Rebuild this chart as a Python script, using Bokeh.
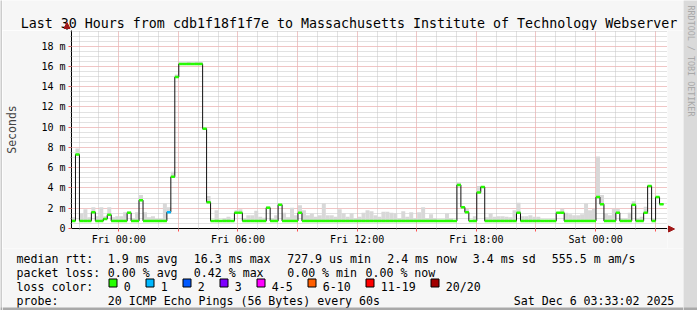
import math
from bokeh.plotting import figure
from bokeh.layouts import row, column
from bokeh.models import FixedTicker, Range1d
from bokeh.core.properties import value
from bokeh.embed import file_html
from bokeh.resources import INLINE

# ---------------- data ----------------
TITLE = "Last 30 Hours from cdb1f18f1f7e to Massachusetts Institute of Technology Webserver"
start_hour = -2.38          # graph start, hours relative to Fri 00:00
step_hours = 0.2            # one consolidated step = 12 min

median_ms = (
    [0.75, 7.3, 0.75, 0.75, 0.75, 1.6, 0.75, 0.75, 0.95, 1.35,
     0.75, 0.75, 0.75, 0.75, 1.55, 0.75, 0.75, 2.8, 0.75, 0.75,
     0.75, 0.75, 0.75, 0.75, 1.6, 5.1, 14.95, 16.25, 16.25, 16.25,
     16.25, 16.25, 16.25, 9.85, 2.6, 0.75, 0.75, 0.75, 0.75, 0.75,
     0.75, 1.55, 1.55, 0.75, 0.75, 0.75, 0.75, 0.75, 0.75, 2.05,
     0.75, 0.75, 2.35, 0.75, 0.75, 0.75, 0.75, 1.55]
    + [0.75] * 39
    + [4.3, 2.1, 1.6, 0.75, 0.75, 3.55, 4.1, 0.75, 0.75, 0.75,
       0.75, 0.75, 0.75, 0.75, 0.75, 1.55, 0.75, 0.75, 0.75, 0.75,
       0.75, 0.75, 0.75, 0.75, 0.75, 1.55, 1.55, 0.75, 0.75, 0.75,
       0.75, 0.75, 0.75, 0.75, 0.75, 3.1, 2.4, 0.75, 0.75, 0.75,
       1.55, 0.75, 0.75, 0.75, 2.35, 0.75, 0.75, 1.55, 4.2, 0.75,
       3.1, 2.4]
)

smoke_max_ms = [
    1.1, 7.9, 1.5, 1.9, 1.1, 2.1, 1.2, 2.1, 1.2, 2.1,
    1.1, 1.2, 1.2, 1.6, 1.7, 1.0, 1.6, 3.3, 1.6, 1.1,
    1.2, 0.95, 0.95, 2.5, 2.1, 5.6, 15.2, 16.4, 16.4, 16.45,
    16.4, 16.45, 16.45, 10.0, 3.2, 0.8, 1.8, 0.8, 1.0, 1.15,
    0.8, 1.8, 1.9, 1.0, 1.3, 1.3, 1.75, 1.15, 1.05, 2.2,
    1.0, 1.3, 2.5, 1.55, 1.1, 2.05, 1.3, 2.3, 1.8, 1.3,
    1.45, 1.15, 1.3, 2.5, 1.3, 1.3, 1.15, 1.9, 1.5, 1.15,
    1.5, 1.0, 1.15, 1.55, 1.8, 1.7, 1.3, 1.15, 1.65, 1.65,
    1.55, 1.5, 1.0, 1.7, 1.15, 1.6, 1.0, 1.6, 2.1, 1.0,
    1.4, 1.0, 0.9, 0.9, 1.5, 1.0, 0.85, 4.6, 2.0, 1.95,
    0.85, 1.2, 4.2, 4.2, 1.1, 1.5, 1.15, 1.2, 1.2, 1.15,
    1.1, 1.8, 2.55, 1.2, 1.2, 1.3, 1.15, 1.15, 0.9, 0.9,
    0.9, 0.9, 1.55, 1.95, 1.55, 1.4, 1.3, 1.3, 1.4, 2.5,
    1.8, 1.95, 7.1, 3.3, 1.5, 1.3, 1.95, 1.95, 1.0, 1.0,
    1.55, 2.7, 1.0, 1.15, 2.15, 4.3, 1.0, 3.2, 2.3,
]

smoke_min_ms = (
    [0.65, 7.2, 0.65, 0.65, 0.65, 1.5, 0.65, 0.65, 0.85, 1.25,
     0.65, 0.65, 0.65, 0.65, 1.45, 0.65, 0.65, 2.7, 0.65, 0.65,
     0.65, 0.65, 0.65, 0.65, 1.5, 5.0, 14.85, 16.15, 16.15, 16.15,
     16.15, 16.15, 16.15, 9.75, 2.5, 0.65, 0.65, 0.65, 0.65, 0.65,
     0.65, 1.45, 1.45, 0.65, 0.65, 0.65, 0.65, 0.65, 0.65, 1.95,
     0.65, 0.65, 2.25, 0.65, 0.65, 0.65, 0.65, 1.45]
    + [0.65] * 39
    + [4.2, 2.0, 1.5, 0.65, 0.65, 3.45, 4.0, 0.65, 0.65, 0.65,
       0.65, 0.65, 0.65, 0.65, 0.65, 1.45, 0.65, 0.65, 0.65, 0.65,
       0.65, 0.65, 0.65, 0.65, 0.65, 1.45, 1.45, 0.65, 0.65, 0.65,
       0.65, 0.65, 0.65, 0.65, 0.65, 3.0, 2.3, 0.65, 0.65, 0.65,
       1.45, 0.65, 0.65, 0.65, 2.25, 0.65, 0.65, 1.45, 4.1, 0.65,
       3.0, 2.3]
)

loss_count = [0] * len(median_ms)
loss_count[24] = 1

loss_labels = ["0", "1", "2", "3", "4-5", "6-10", "11-19", "20/20"]
loss_colors = ["#26ff00", "#00b8ff", "#0059ff", "#7e00ff", "#ff00ff",
               "#ff5e00", "#ff0000", "#a10000"]

y_ticks = [0, 2, 4, 6, 8, 10, 12, 14, 16, 18]
y_labels = ["0", "2 m", "4 m", "6 m", "8 m", "10 m", "12 m", "14 m", "16 m", "18 m"]
x_major = [0, 3, 6, 9, 12, 15, 18, 21, 24, 27]
x_labels = {0: "Fri 00:00", 6: "Fri 06:00", 12: "Fri 12:00", 18: "Fri 18:00", 24: "Sat 00:00"}

legend_rows = [
    [("median rtt:", 16), ("1.9 ms avg", 107.3), ("16.3 ms max", 193.3),
     ("727.9 us min", 286.7), ("2.4 ms now", 386.7), ("3.4 ms sd", 472.3),
     ("555.5 m am/s", 551.3)],
    [("packet loss:", 16), ("0.00 % avg", 107.3), ("0.42 % max", 193.3),
     ("0.00 % min", 286.7), ("0.00 % now", 365)],
    [("loss color:", 16)],
    [("probe:", 16), ("20 ICMP Echo Pings (56 Bytes) every 60s", 107.3),
     ("Sat Dec  6 03:33:02 2025", 513.3)],
]
swatch_x = [108.5, 145.5, 182.5, 219.5, 256.5, 307.5, 365.5, 430.5]

# ---------------- layout geometry (image pixels) ----------------
W, H = 697, 310
BG = "#f6f6f6"
STRIP = "#dadada"
EDGE_L = "#cccccc"
EDGE_B = "#a9a9a9"
MONO = "DejaVu Sans Mono"
LEFT_W, RIGHT_W = 2, 14
MID_W = W - LEFT_W - RIGHT_W          # 681
TITLE_H, MAIN_H = 30, 218
LEG_H = H - TITLE_H - MAIN_H          # 62
FRAME_L, FRAME_R = 67, 667
FRAME_T, FRAME_B = 30, 228
ARROW_W = MID_W - (FRAME_R - LEFT_W)  # 16


def pix_fig(w, h, bg=BG):
    f = figure(width=w, height=h, output_backend="svg", toolbar_location=None,
               x_range=Range1d(0, w), y_range=Range1d(h, 0),
               x_axis_type=None, y_axis_type=None,
               min_border=0, min_border_left=0, min_border_right=0,
               min_border_top=0, min_border_bottom=0)
    f.outline_line_color = None
    f.background_fill_color = bg
    f.border_fill_color = bg
    f.frame_align = False
    return f


def put_text(f, x, y, s, size="11.6px", align="left", baseline="alphabetic",
             color="#000000", angle=0.0):
    f.text(x=[x], y=[y], text=[s], text_font=value(MONO), text_font_size=size,
           text_align=align, text_baseline=baseline, text_color=color,
           angle=angle)


# ---------------- title strip ----------------
title_fig = pix_fig(MID_W, TITLE_H)
put_text(title_fig, W / 2 - LEFT_W, 23, TITLE, size="13.3px", align="center")
ax_x = FRAME_L - LEFT_W - 0.5
title_fig.segment(x0=[ax_x], y0=[26], x1=[ax_x], y1=[TITLE_H], line_color="#000000", line_width=1)
title_fig.patch([ax_x - 3, ax_x, ax_x + 3], [TITLE_H - 2, TITLE_H - 8, TITLE_H - 2],
                fill_color="#a01818", line_color="#a01818")

# ---------------- main plot ----------------
n = len(median_ms)
x0 = [start_hour + step_hours * i for i in range(n)]
x1 = [v + step_hours for v in x0]
x_end = start_hour + 30.0
y_top = 19.55

p = figure(width=FRAME_R - LEFT_W, height=MAIN_H, output_backend="svg",
           toolbar_location=None,
           x_range=(start_hour, x_end), y_range=(0, y_top),
           min_border_left=FRAME_L - LEFT_W, min_border_right=0,
           min_border_top=0, min_border_bottom=MAIN_H - (FRAME_B - FRAME_T))
p.background_fill_color = "#ffffff"
p.border_fill_color = BG
p.outline_line_color = None
p.frame_align = False

p.xaxis.ticker = FixedTicker(ticks=x_major, minor_ticks=[h for h in range(-2, 28)])
p.yaxis.ticker = FixedTicker(ticks=y_ticks, minor_ticks=[k * 0.5 for k in range(0, 40)])
for g in (p.xgrid[0], p.ygrid[0]):
    g.grid_line_color = "#ffaaaa"
    g.grid_line_dash = "1 1"
    g.grid_line_width = 1
    g.minor_grid_line_color = "#c4c4c4"
    g.minor_grid_line_dash = "1 1"
    g.minor_grid_line_width = 1

p.xaxis.major_label_overrides = {t: x_labels.get(t, "") for t in x_major}
p.yaxis.major_label_overrides = {t: l for t, l in zip(y_ticks, y_labels)}
for ax in (p.xaxis[0], p.yaxis[0]):
    ax.axis_line_color = "#000000"
    ax.major_label_text_font = MONO
    ax.major_label_text_font_size = "10px"
    ax.major_label_text_color = "#000000"
    ax.major_tick_line_color = "#ff5050"
    ax.major_tick_in = 0
    ax.major_tick_out = 3
    ax.minor_tick_line_color = "#888888"
    ax.minor_tick_in = 0
    ax.minor_tick_out = 1
p.xaxis.major_label_standoff = 2
p.yaxis.major_label_standoff = 3
p.yaxis.axis_label = "Seconds"
p.yaxis.axis_label_text_font = MONO
p.yaxis.axis_label_text_font_size = "11.5px"
p.yaxis.axis_label_text_font_style = "normal"
p.yaxis.axis_label_standoff = 19

# smoke
p.quad(left=x0, right=x1, bottom=smoke_min_ms, top=smoke_max_ms,
       fill_color="#d8d8d8", line_color=None)

# median: black step line + loss coloured segments
sx = x0 + [x1[-1]]
sy = median_ms + [median_ms[-1]]
p.step(sx, sy, mode="after", line_color="#111111", line_width=1)
seg_colors = [loss_colors[min(c, 1)] for c in loss_count]
p.segment(x0=x0, x1=x1, y0=median_ms, y1=median_ms, line_color=seg_colors,
          line_width=2.5)

# ---------------- x-axis arrow head strip ----------------
arrow_fig = pix_fig(ARROW_W, MAIN_H)
ay = FRAME_B - FRAME_T + 0.5
arrow_fig.segment(x0=[0], y0=[ay], x1=[3], y1=[ay], line_color="#000000", line_width=1)
arrow_fig.patch([1, 7, 1], [ay - 3, ay, ay + 3], fill_color="#a01818", line_color="#a01818")

# ---------------- legend strip ----------------
leg = pix_fig(MID_W, LEG_H)
top0 = TITLE_H + MAIN_H
base = [258.3, 272.3, 286.3, 300.3]
for rw, yb in zip(legend_rows, base):
    for s, x in rw:
        put_text(leg, x - LEFT_W, yb - top0, s)
for i, (lab, col) in enumerate(zip(loss_labels, loss_colors)):
    sxp = swatch_x[i] - LEFT_W
    leg.quad(left=[sxp], right=[sxp + 8], top=[278.5 - top0], bottom=[286.5 - top0],
             fill_color=col, line_color="#000000", line_width=1,
             line_join="miter")
    put_text(leg, sxp + 14.8, base[2] - top0, lab)
leg.quad(left=[0], right=[MID_W], top=[LEG_H - 3], bottom=[LEG_H],
         fill_color=EDGE_B, line_color=None)

# ---------------- side strips ----------------
left_fig = pix_fig(LEFT_W, H, bg=EDGE_L)
left_fig.quad(left=[0], right=[LEFT_W], top=[H - 3], bottom=[H], fill_color=EDGE_B, line_color=None)
right_fig = pix_fig(RIGHT_W, H, bg=STRIP)
put_text(right_fig, 7, 5, "RRDTOOL / TOBI OETIKER", size="8.4px", align="left",
         baseline="middle", color="#a8a8a8", angle=-math.pi / 2)
right_fig.quad(left=[0], right=[RIGHT_W], top=[H - 3], bottom=[H], fill_color=EDGE_B, line_color=None)

layout = row(left_fig,
             column(title_fig, row(p, arrow_fig, spacing=0), leg, spacing=0),
             right_fig, spacing=0)

open("out.html", "w").write(file_html(layout, INLINE))
